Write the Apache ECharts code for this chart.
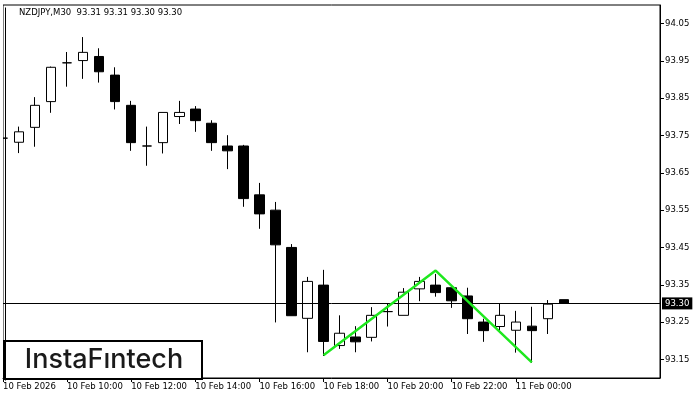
<!DOCTYPE html>
<html>
<head>
<meta charset="utf-8">
<script src="https://cdn.jsdelivr.net/npm/echarts@6/dist/echarts.min.js"></script>
<style>
  html, body { margin: 0; padding: 0; background: #fff; }
  #chart { width: 700px; height: 400px; }
</style>
</head>
<body>
<div id="chart"></div>
<script>
// 30-minute bars, 10 Feb 08:00 .. 11 Feb 01:30, then empty space to the right edge
const barTimes = [
  '10 Feb 08:00', '10 Feb 08:30', '10 Feb 09:00', '10 Feb 09:30', '10 Feb 10:00', '10 Feb 10:30',
  '10 Feb 11:00', '10 Feb 11:30', '10 Feb 12:00', '10 Feb 12:30', '10 Feb 13:00', '10 Feb 13:30',
  '10 Feb 14:00', '10 Feb 14:30', '10 Feb 15:00', '10 Feb 15:30', '10 Feb 16:00', '10 Feb 16:30',
  '10 Feb 17:00', '10 Feb 17:30', '10 Feb 18:00', '10 Feb 18:30', '10 Feb 19:00', '10 Feb 19:30',
  '10 Feb 20:00', '10 Feb 20:30', '10 Feb 21:00', '10 Feb 21:30', '10 Feb 22:00', '10 Feb 22:30',
  '10 Feb 23:00', '10 Feb 23:30', '11 Feb 00:00', '11 Feb 00:30', '11 Feb 01:00', '11 Feb 01:30',
  '11 Feb 02:00', '11 Feb 02:30', '11 Feb 03:00', '11 Feb 03:30', '11 Feb 04:00', '11 Feb 04:30'
];
const xTickLabels = ['10 Feb 2026', '10 Feb 10:00', '10 Feb 12:00', '10 Feb 14:00', '10 Feb 16:00',
  '10 Feb 18:00', '10 Feb 20:00', '10 Feb 22:00', '11 Feb 00:00'];

const opens = [93.743, 93.732, 93.772, 93.841, 93.945, 93.951, 93.962, 93.912, 93.831, 93.722, 93.731, 93.801,
  93.821, 93.783, 93.722, 93.722, 93.591, 93.550, 93.450, 93.260, 93.349, 93.187, 93.210, 93.209,
  93.278, 93.268, 93.339, 93.349, 93.342, 93.320, 93.250, 93.238, 93.228, 93.239, 93.259, 93.310];
const closes = [93.743, 93.760, 93.831, 93.933, 93.945, 93.973, 93.921, 93.841, 93.731, 93.722, 93.812, 93.812,
  93.790, 93.731, 93.709, 93.581, 93.540, 93.457, 93.267, 93.359, 93.198, 93.220, 93.197, 93.268,
  93.278, 93.330, 93.359, 93.329, 93.307, 93.259, 93.227, 93.268, 93.250, 93.227, 93.298, 93.300];
const lows = [93.692, 93.703, 93.720, 93.811, 93.881, 93.902, 93.892, 93.820, 93.709, 93.669, 93.702, 93.781,
  93.760, 93.709, 93.660, 93.559, 93.500, 93.249, 93.267, 93.169, 93.159, 93.178, 93.169, 93.198,
  93.238, 93.268, 93.306, 93.318, 93.288, 93.218, 93.197, 93.227, 93.168, 93.141, 93.218, 93.300];
const highs = [93.794, 93.774, 93.853, 93.935, 93.974, 94.014, 93.984, 93.933, 93.843, 93.774, 93.812, 93.843,
  93.829, 93.791, 93.751, 93.725, 93.623, 93.572, 93.459, 93.371, 93.390, 93.268, 93.239, 93.290,
  93.300, 93.341, 93.371, 93.379, 93.342, 93.342, 93.259, 93.300, 93.280, 93.291, 93.309, 93.310];

const yTicks = [93.15, 93.25, 93.35, 93.45, 93.55, 93.65, 93.75, 93.85, 93.95, 94.05];
const lastPrice = 93.30;

// double top outline (bar index, price)
const patternBars = [20, 27, 33];
const patternPrices = [93.161, 93.388, 93.142];

const chart = echarts.init(document.getElementById('chart'));
const font = 'DejaVu Sans';
const showTick = (i) => i % 4 === 0 && i <= 32;

chart.setOption({
  animation: false,
  backgroundColor: '#fff',
  title: {
    text: 'NZDJPY,M30  93.31 93.31 93.30 93.30',
    left: 14, top: 3,
    textStyle: { fontFamily: font, fontSize: 8.5, fontWeight: 'normal', color: '#000' }
  },
  grid: { left: 3, right: 40, top: 5, bottom: 22, show: true, borderColor: '#000', borderWidth: 1 },
  xAxis: {
    type: 'category',
    data: barTimes,
    boundaryGap: false,
    axisLine: { lineStyle: { color: '#000', width: 1 } },
    axisTick: { interval: showTick, length: 4, lineStyle: { color: '#000' } },
    axisLabel: {
      interval: showTick,
      formatter: (v, i) => showTick(i) ? xTickLabels[i / 4] : '',
      align: 'left', margin: 4,
      fontFamily: font, fontSize: 8.5, color: '#000'
    },
    splitLine: { show: false }
  },
  yAxis: {
    type: 'value',
    position: 'right',
    min: 93.1, max: 94.1,
    axisLine: { show: true, lineStyle: { color: '#000', width: 1 } },
    axisTick: { show: true, customValues: yTicks, length: 4, lineStyle: { color: '#000' } },
    axisLabel: {
      customValues: yTicks,
      formatter: (v) => v.toFixed(2),
      margin: 5, fontFamily: font, fontSize: 8.5, color: '#000'
    },
    splitLine: { show: false }
  },
  series: [
    {
      type: 'candlestick',
      barWidth: 10,
      data: opens.map((o, i) => [o, closes[i], lows[i], highs[i]]),
      itemStyle: { color: '#fff', color0: '#000', borderColor: '#000', borderColor0: '#000', borderWidth: 1 },
      markLine: {
        silent: true,
        symbol: 'none',
        lineStyle: { color: '#000', type: 'solid', width: 1 },
        label: {
          position: 'end', distance: 2,
          formatter: lastPrice.toFixed(2),
          backgroundColor: '#000', color: '#fff', padding: [2, 3, 1, 3],
          fontFamily: font, fontSize: 8.5
        },
        data: [{ yAxis: lastPrice }]
      }
    },
    {
      type: 'line',
      data: patternBars.map((b, i) => [b, patternPrices[i]]),
      symbol: 'none',
      lineStyle: { color: '#1ee81e', width: 2.5 },
      z: 5
    }
  ],
  graphic: [
    // white strip hiding the left half of the first bar, like the terminal does
    { type: 'rect', left: 0, top: 5, z: 90, shape: { width: 3, height: 373 }, style: { fill: '#fff' } },
    { type: 'line', left: 3, top: 5, z: 91, shape: { x1: 0.5, y1: 0, x2: 0.5, y2: 373 }, style: { stroke: '#000', lineWidth: 1 } },
    {
      type: 'group', left: 3, top: 340, z: 100,
      children: [
        { type: 'rect', shape: { x: 0, y: 0, width: 198, height: 38 }, style: { fill: '#fff', stroke: '#000', lineWidth: 2 } },
        {
          type: 'text', x: 100, y: 19,
          style: {
            text: 'InstaF\u0131ntech', fill: '#1a1a1a', align: 'center', verticalAlign: 'middle',
            font: '500 27px Inter'
          }
        }
      ]
    }
  ]
});
</script>
</body>
</html>
